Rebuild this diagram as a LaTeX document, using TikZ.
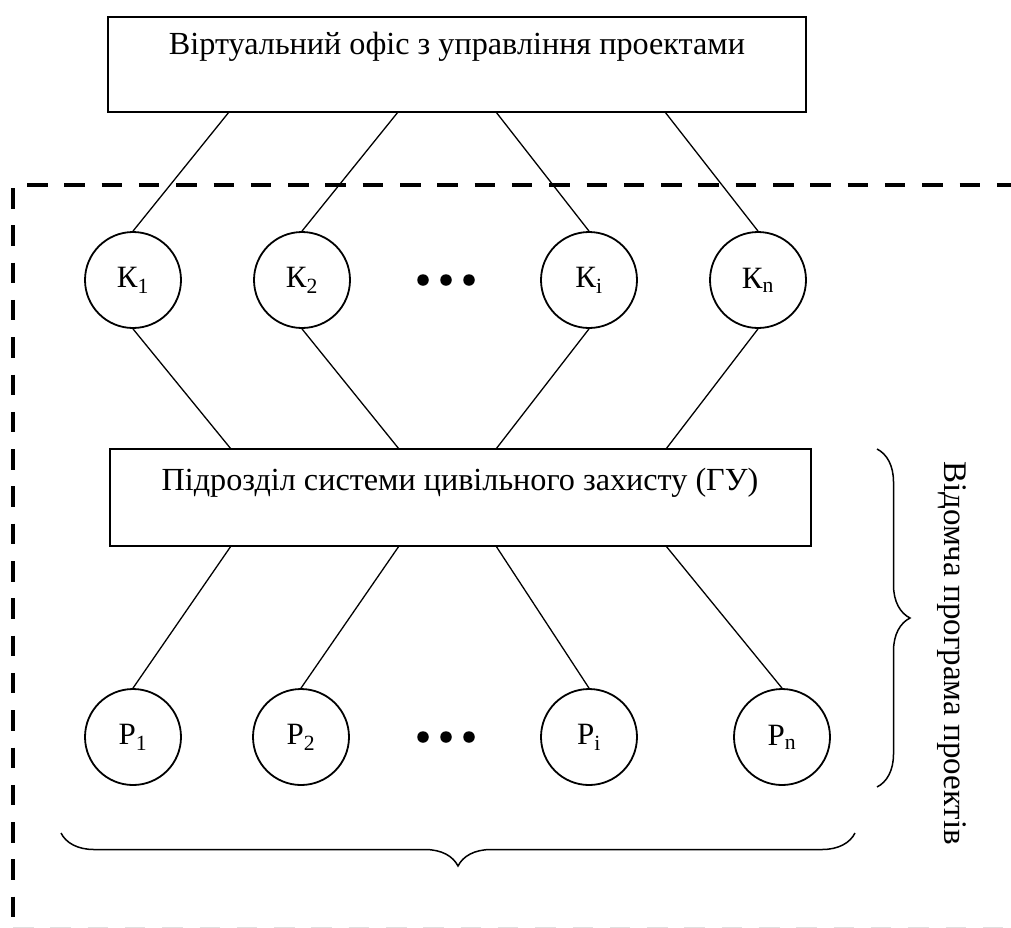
\documentclass[tikz,border=0pt]{standalone}
\usepackage{fontspec}
\setmainfont{Liberation Serif}
\usetikzlibrary{decorations.pathreplacing}
\begin{document}
\begin{tikzpicture}[x=1pt,y=-1pt,
  txt/.style={font=\fontsize{32.2}{38}\selectfont, inner sep=0pt},
  box/.style={draw, line width=1.8pt, minimum height=96pt, inner sep=0pt},
  circ/.style={draw, circle, line width=1.8pt, minimum size=96pt, inner sep=0pt, font=\fontsize{31}{36}\selectfont},
  dotnode/.style={circle, fill=black, inner sep=0pt, minimum size=11.5pt},
  conn/.style={line width=1.3pt},
  frame/.style={line width=4.7pt, dash pattern=on 20.5pt off 16.8pt},
  bracestyle/.style={line width=1.5pt, decorate},
]
\useasboundingbox (0,0) rectangle (1011,927);

% dashed frame
\draw[frame] (27,185) -- (1015,185);
\draw[frame] (13,188) -- (13,918);
\draw[frame, black!12] (13,929.2) -- (1015,929.2);

% top box
\node[box, minimum width=698pt, minimum height=95pt] (top) at (457,64.5) {};
\node[txt] (toptext) at (457,47) {Віртуальний офіс з управління проектами};

% K row
\node[circ] (K1) at (133,280) {К\textsubscript{1}};
\node[circ] (K2) at (302,280) {К\textsubscript{2}};
\node[circ] (Ki) at (589,280) {К\textsubscript{i}};
\node[circ] (Kn) at (758,280) {К\textsubscript{n}};
\node[dotnode] (kd1) at (423,280) {};
\node[dotnode] (kd2) at (446,280) {};
\node[dotnode] (kd3) at (469,280) {};

% middle box
\node[box, minimum width=701pt, minimum height=97pt] (mid) at (460.5,497.5) {};
\node[txt] (midtext) at (460,483) {Підрозділ системи цивільного захисту (ГУ)};

% P row
\node[circ] (P1) at (133,737) {Р\textsubscript{1}};
\node[circ] (P2) at (301,737) {Р\textsubscript{2}};
\node[circ] (Pi) at (589,737) {Р\textsubscript{i}};
\node[circ] (Pn) at (782,737) {Р\textsubscript{n}};
\node[dotnode] (pd1) at (423,737) {};
\node[dotnode] (pd2) at (446,737) {};
\node[dotnode] (pd3) at (469,737) {};

% attachment points on boxes
\coordinate (t1) at (229,112);
\coordinate (t2) at (398,112);
\coordinate (t3) at (496,112);
\coordinate (t4) at (665,112);
\coordinate (m1) at (231,449);
\coordinate (m2) at (399,449);
\coordinate (m3) at (496,449);
\coordinate (m4) at (666,449);
\coordinate (b1) at (231,546);
\coordinate (b2) at (399,546);
\coordinate (b3) at (496,546);
\coordinate (b4) at (666,546);

% connectors
\draw[conn] (K1.north) -- (t1);
\draw[conn] (K2.north) -- (t2);
\draw[conn] (Ki.north) -- (t3);
\draw[conn] (Kn.north) -- (t4);
\draw[conn] (K1.south) -- (m1);
\draw[conn] (K2.south) -- (m2);
\draw[conn] (Ki.south) -- (m3);
\draw[conn] (Kn.south) -- (m4);
\draw[conn] (b1) -- (P1.north);
\draw[conn] (b2) -- (P2.north);
\draw[conn] (b3) -- (Pi.north);
\draw[conn] (b4) -- (Pn.north);

% braces
\draw[bracestyle, decoration={brace, amplitude=33pt}] (877,449) -- (877,787);
\draw[bracestyle, decoration={brace, amplitude=33pt}] (855,833) -- (61,833);

% vertical label
\node[txt, rotate=-90, font=\fontsize{33}{38}\selectfont] (vlabel) at (952,653) {Відомча програма проектів};
\end{tikzpicture}
\end{document}
